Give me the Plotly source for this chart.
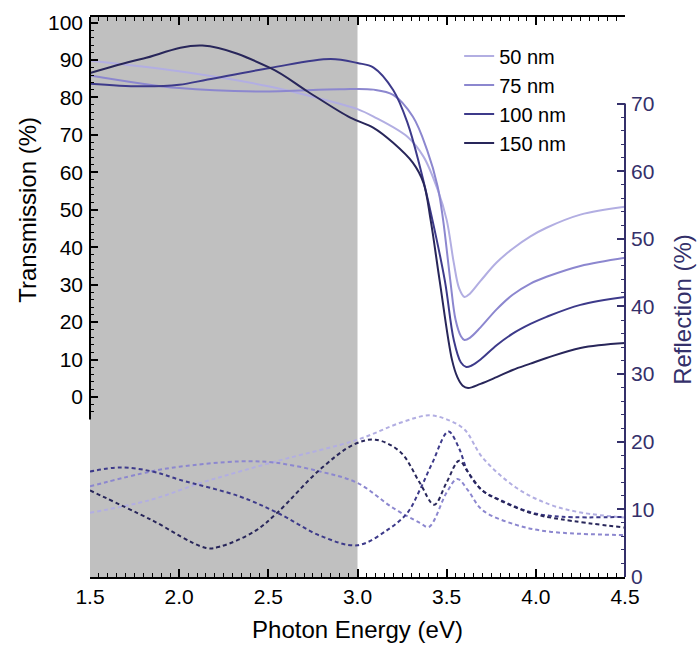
import plotly.graph_objects as go

# ---------------- data ----------------
labels = ["50 nm", "75 nm", "100 nm", "150 nm"]
colors = ["#b2aee2", "#8c87cf", "#3d3a8a", "#28265a"]

# Transmission (%) - left axis, solid
t50_x = [1.5, 2.0, 2.5, 2.9, 3.0, 3.09, 3.28, 3.37, 3.45, 3.5, 3.54, 3.57, 3.6, 3.63, 3.69, 3.78, 3.87, 3.97, 4.06, 4.25, 4.5]
t50_y = [89.8, 87.0, 83.0, 78.3, 76.9, 74.9, 69.5, 64.2, 55.3, 47.3, 35.8, 29.0, 26.7, 27.6, 31.0, 35.9, 39.6, 42.9, 45.2, 48.7, 50.8]

t75_x = [1.5, 2.0, 2.44, 2.9, 3.09, 3.2, 3.31, 3.39, 3.45, 3.48, 3.52, 3.55, 3.58, 3.6, 3.63, 3.69, 3.78, 3.87, 3.97, 4.06, 4.25, 4.5]
t75_y = [85.9, 82.5, 81.6, 82.2, 82.1, 80.7, 74.9, 66.0, 56.1, 47.3, 31.3, 20.6, 16.2, 15.2, 15.8, 18.6, 23.4, 27.3, 30.3, 32.1, 35.0, 37.2]

t100_x = [1.5, 1.78, 2.0, 2.16, 2.51, 2.85, 3.0, 3.09, 3.2, 3.28, 3.35, 3.42, 3.49, 3.54, 3.58, 3.61, 3.64, 3.69, 3.78, 3.87, 3.97, 4.06, 4.25, 4.5]
t100_y = [83.7, 83.0, 83.4, 84.8, 87.9, 90.3, 89.2, 88.0, 82.0, 73.3, 61.5, 47.3, 31.0, 15.2, 9.2, 8.0, 8.4, 10.0, 13.8, 16.9, 19.5, 21.4, 24.6, 26.7]

t150_x = [1.5, 1.65, 1.8, 2.13, 2.51, 2.72, 2.96, 3.09, 3.2, 3.31, 3.37, 3.41, 3.46, 3.53, 3.56, 3.59, 3.62, 3.69, 3.78, 3.87, 3.97, 4.06, 4.25, 4.5]
t150_y = [86.5, 88.6, 90.4, 93.9, 87.9, 81.6, 74.6, 71.9, 67.9, 62.6, 57.2, 47.3, 31.3, 9.9, 5.3, 3.0, 2.4, 3.5, 5.3, 7.2, 8.9, 10.4, 13.1, 14.4]

# Reflection (%) - right axis, dashed
r50_x = [1.5, 1.84, 2.12, 2.34, 2.6, 3.0, 3.24, 3.4, 3.5, 3.6, 3.7, 3.89, 4.08, 4.26, 4.5]
r50_y = [9.5, 11.4, 13.9, 15.6, 17.5, 20.3, 22.8, 23.9, 23.3, 21.8, 17.7, 13.2, 10.7, 9.5, 8.8]

r75_x = [1.5, 1.84, 2.0, 2.34, 2.54, 2.79, 3.0, 3.2, 3.35, 3.4, 3.5, 3.56, 3.62, 3.7, 3.89, 4.08, 4.5]
r75_y = [13.4, 15.6, 16.3, 17.1, 16.9, 15.6, 13.9, 10.2, 8.0, 7.4, 12.5, 14.5, 12.8, 9.9, 7.7, 6.7, 6.2]

r100_x = [1.5, 1.67, 1.85, 2.0, 2.34, 2.55, 2.8, 3.0, 3.17, 3.28, 3.35, 3.42, 3.51, 3.57, 3.62, 3.7, 3.8, 3.98, 4.15, 4.5]
r100_y = [15.6, 16.2, 15.6, 14.4, 11.9, 9.5, 6.0, 4.7, 7.0, 9.5, 12.9, 16.9, 21.5, 19.0, 15.5, 12.8, 11.4, 9.5, 8.9, 8.9]

r150_x = [1.5, 1.84, 2.15, 2.23, 2.42, 2.55, 2.79, 2.98, 3.1, 3.24, 3.35, 3.43, 3.5, 3.57, 3.62, 3.7, 3.8, 3.98, 4.15, 4.5]
r150_y = [12.8, 8.5, 4.3, 4.5, 6.7, 9.5, 15.9, 19.6, 20.3, 18.5, 13.9, 10.7, 14.0, 17.2, 15.5, 12.8, 11.3, 9.4, 8.5, 7.3]

trans = [(t50_x, t50_y), (t75_x, t75_y), (t100_x, t100_y), (t150_x, t150_y)]
refl = [(r50_x, r50_y), (r75_x, r75_y), (r100_x, r100_y), (r150_x, r150_y)]

x_ticks = [1.5, 2.0, 2.5, 3.0, 3.5, 4.0, 4.5]
t_ticks = [0, 10, 20, 30, 40, 50, 60, 70, 80, 90, 100]
r_ticks = [0, 10, 20, 30, 40, 50, 60, 70]

shade_x = [1.5, 3.0]
x_range = [1.5, 4.5]
t_range = [-48.1, 101.5]
r_range = [0, 82.8]

axis_col = "#34306a"
FONT = "Liberation Sans, Arial, sans-serif"

fig = go.Figure()

for (xs, ys), c, lab in zip(refl, colors, labels):
    fig.add_trace(go.Scatter(x=xs, y=ys, mode="lines", yaxis="y2", showlegend=False,
                             line=dict(color=c, width=2, dash="4px,3px", shape="spline", smoothing=1.0),
                             name=lab + " R"))

for (xs, ys), c, lab in zip(trans, colors, labels):
    fig.add_trace(go.Scatter(x=xs, y=ys, mode="lines", name=lab,
                             line=dict(color=c, width=2, shape="spline", smoothing=1.0)))

# shaded region
fig.add_shape(type="rect", xref="x", yref="paper", x0=shade_x[0], x1=shade_x[1], y0=0, y1=1,
              fillcolor="#c0c0c0", line=dict(width=0), layer="below")
# partial left axis line
fig.add_shape(type="line", xref="paper", yref="y", x0=0, x1=0, y0=-6, y1=t_range[1],
              line=dict(color="black", width=2))
# partial right axis line
fig.add_shape(type="line", xref="paper", yref="y2", x0=1, x1=1, y0=0, y1=70,
              line=dict(color=axis_col, width=2))

fig.update_layout(
    width=697, height=646,
    margin=dict(l=90, r=72, t=17, b=69, autoexpand=False),
    paper_bgcolor="white", plot_bgcolor="white",
    font=dict(family=FONT, size=21, color="black"),
    showlegend=True,
    legend=dict(x=0.69, y=0.965, xanchor="left", yanchor="top", bgcolor="rgba(0,0,0,0)",
                font=dict(size=20), tracegroupgap=0, itemwidth=30),
    xaxis=dict(range=x_range, tickvals=x_ticks, tickformat=".1f", ticks="inside", ticklen=8,
               tickwidth=1.5, tickcolor="black", showline=True, linecolor="black", linewidth=2,
               mirror="ticks", showgrid=False, zeroline=False, automargin=False,
               minor=dict(dtick=0.05, ticks="inside", ticklen=4, tickwidth=1.2, tickcolor="black", showgrid=False),
               title=dict(text="Photon Energy (eV)", font=dict(size=24), standoff=14)),
    yaxis=dict(range=t_range, tickvals=t_ticks, ticks="inside", ticklen=8, tickwidth=1.5, automargin=False,
               tickcolor="black", showline=False, showgrid=False, zeroline=False, ticklabelstandoff=6,
               minor=dict(tickvals=list(range(-4, 101, 2)), ticks="inside", ticklen=4, tickwidth=1.2,
                          tickcolor="black", showgrid=False)),
    yaxis2=dict(range=r_range, tickvals=r_ticks, overlaying="y", side="right", anchor="x", automargin=False,
                ticks="inside", ticklen=8, tickwidth=1.5, tickcolor=axis_col, showline=False,
                showgrid=False, zeroline=False, tickfont=dict(color=axis_col), ticklabelstandoff=5,
                minor=dict(tickvals=list(range(0, 71, 2)), ticks="inside", ticklen=4, tickwidth=1.2,
                           tickcolor=axis_col, showgrid=False)),
    annotations=[
        dict(text="Transmission (%)", xref="paper", yref="y", x=0, y=50, xshift=-62,
             textangle=-90, showarrow=False, font=dict(size=24, color="black"), xanchor="center", yanchor="middle"),
        dict(text="Reflection (%)", xref="paper", yref="y2", x=1, y=39.5, xshift=58,
             textangle=-90, showarrow=False, font=dict(size=24, color=axis_col), xanchor="center", yanchor="middle"),
    ],
)

fig.write_html("out.html")
